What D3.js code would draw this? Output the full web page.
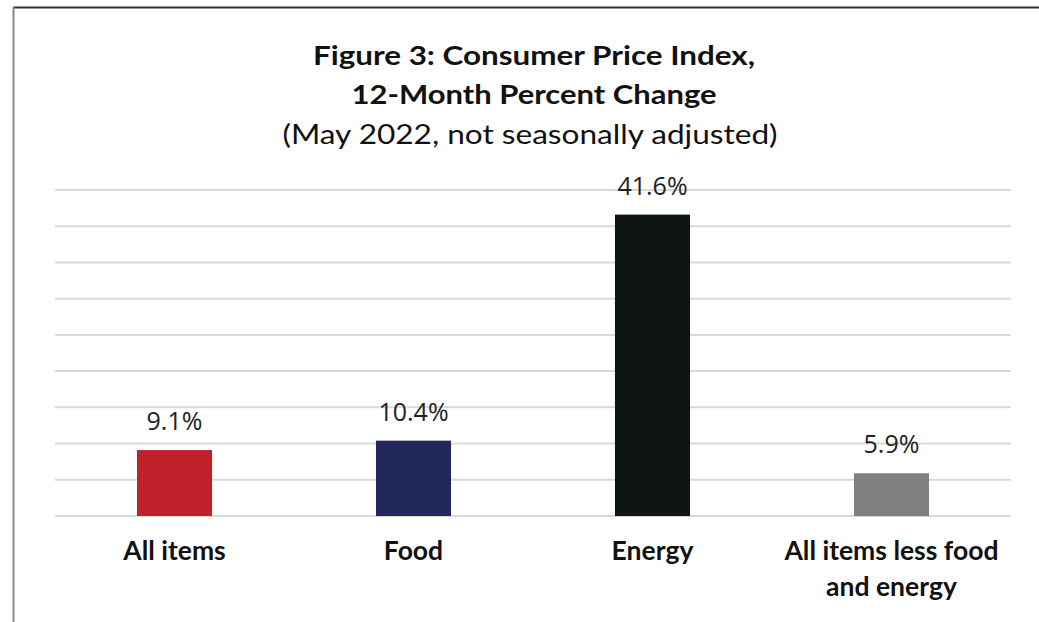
<!DOCTYPE html>
<html><head><meta charset="utf-8">
<script src="https://cdn.jsdelivr.net/npm/d3@7"></script>
<style>html,body{margin:0;padding:0;background:#fff;}svg{display:block;}</style>
</head><body>
<script>
const categories = ["All items", "Food", "Energy", "All items less food and energy"];
const categoryLines = [["All items"], ["Food"], ["Energy"], ["All items less food", "and energy"]];
const values = [9.1, 10.4, 41.6, 5.9];
const valueLabels = ["9.1%", "10.4%", "41.6%", "5.9%"];
const colors = ["#C0202A", "#22285C", "#0F1414", "#808080"];
const gridTicks = [0, 5, 10, 15, 20, 25, 30, 35, 40, 45];
const titleLines = ["Figure 3: Consumer Price Index,", "12-Month Percent Change"];
const subtitle = "(May 2022, not seasonally adjusted)";

const W = 1039, H = 622;
const svg = d3.select("body").append("svg").attr("width", W).attr("height", H);
const font = "Lato, 'Open Sans', sans-serif";
const valFont = "'Open Sans', Lato, sans-serif";

// frame
svg.append("line").attr("x1", 13).attr("x2", W).attr("y1", 7.5).attr("y2", 7.5)
  .attr("stroke", "#333").attr("stroke-width", 2);
svg.append("line").attr("x1", 13.5).attr("x2", 13.5).attr("y1", 7).attr("y2", H)
  .attr("stroke", "#888").attr("stroke-width", 2);

const x = d3.scaleBand().domain(categories).range([55, 1011]).paddingInner(0.686).paddingOuter(0.343);
const y = d3.scaleLinear().domain([0, 45]).range([516, 190]);

// gridlines
svg.append("g").selectAll("line").data(gridTicks).join("line")
  .attr("x1", 55).attr("x2", 1011)
  .attr("y1", d => y(d)).attr("y2", d => y(d))
  .attr("stroke", "#d9d9d9").attr("stroke-width", 2);

// bars
svg.append("g").selectAll("rect").data(categories).join("rect")
  .attr("x", d => x(d)).attr("width", x.bandwidth())
  .attr("y", (d, i) => y(values[i])).attr("height", (d, i) => y(0) - y(values[i]))
  .attr("fill", (d, i) => colors[i]);

// value labels
svg.append("g").selectAll("text").data(categories).join("text")
  .attr("x", d => x(d) + x.bandwidth() / 2)
  .attr("y", (d, i) => y(values[i]) - 20)
  .attr("text-anchor", "middle")
  .attr("font-family", valFont).attr("font-size", 25).attr("fill", "#222")
  .text((d, i) => valueLabels[i]);

// category labels
const cg = svg.append("g").selectAll("text").data(categories).join("text")
  .attr("text-anchor", "middle")
  .attr("font-family", font).attr("font-size", 26.5).attr("font-weight", "bold").attr("fill", "#111");
cg.each(function(d, i) {
  const t = d3.select(this);
  categoryLines[i].forEach((ln, j) => {
    t.append("tspan").attr("x", x(d) + x.bandwidth() / 2).attr("y", 560 + j * 36).text(ln);
  });
});

// titles
svg.append("text").attr("x", 534).attr("y", 65).attr("text-anchor", "middle")
  .attr("font-family", font).attr("font-size", 27).attr("font-weight", "bold").attr("fill", "#111")
  .attr("textLength", 442).attr("lengthAdjust", "spacingAndGlyphs").text(titleLines[0]);
svg.append("text").attr("x", 534).attr("y", 104).attr("text-anchor", "middle")
  .attr("font-family", font).attr("font-size", 27).attr("font-weight", "bold").attr("fill", "#111")
  .attr("textLength", 365).attr("lengthAdjust", "spacingAndGlyphs").text(titleLines[1]);
svg.append("text").attr("x", 530).attr("y", 144).attr("text-anchor", "middle")
  .attr("font-family", font).attr("font-size", 27).attr("fill", "#111")
  .attr("textLength", 495).attr("lengthAdjust", "spacingAndGlyphs").text(subtitle);
</script>
</body></html>
